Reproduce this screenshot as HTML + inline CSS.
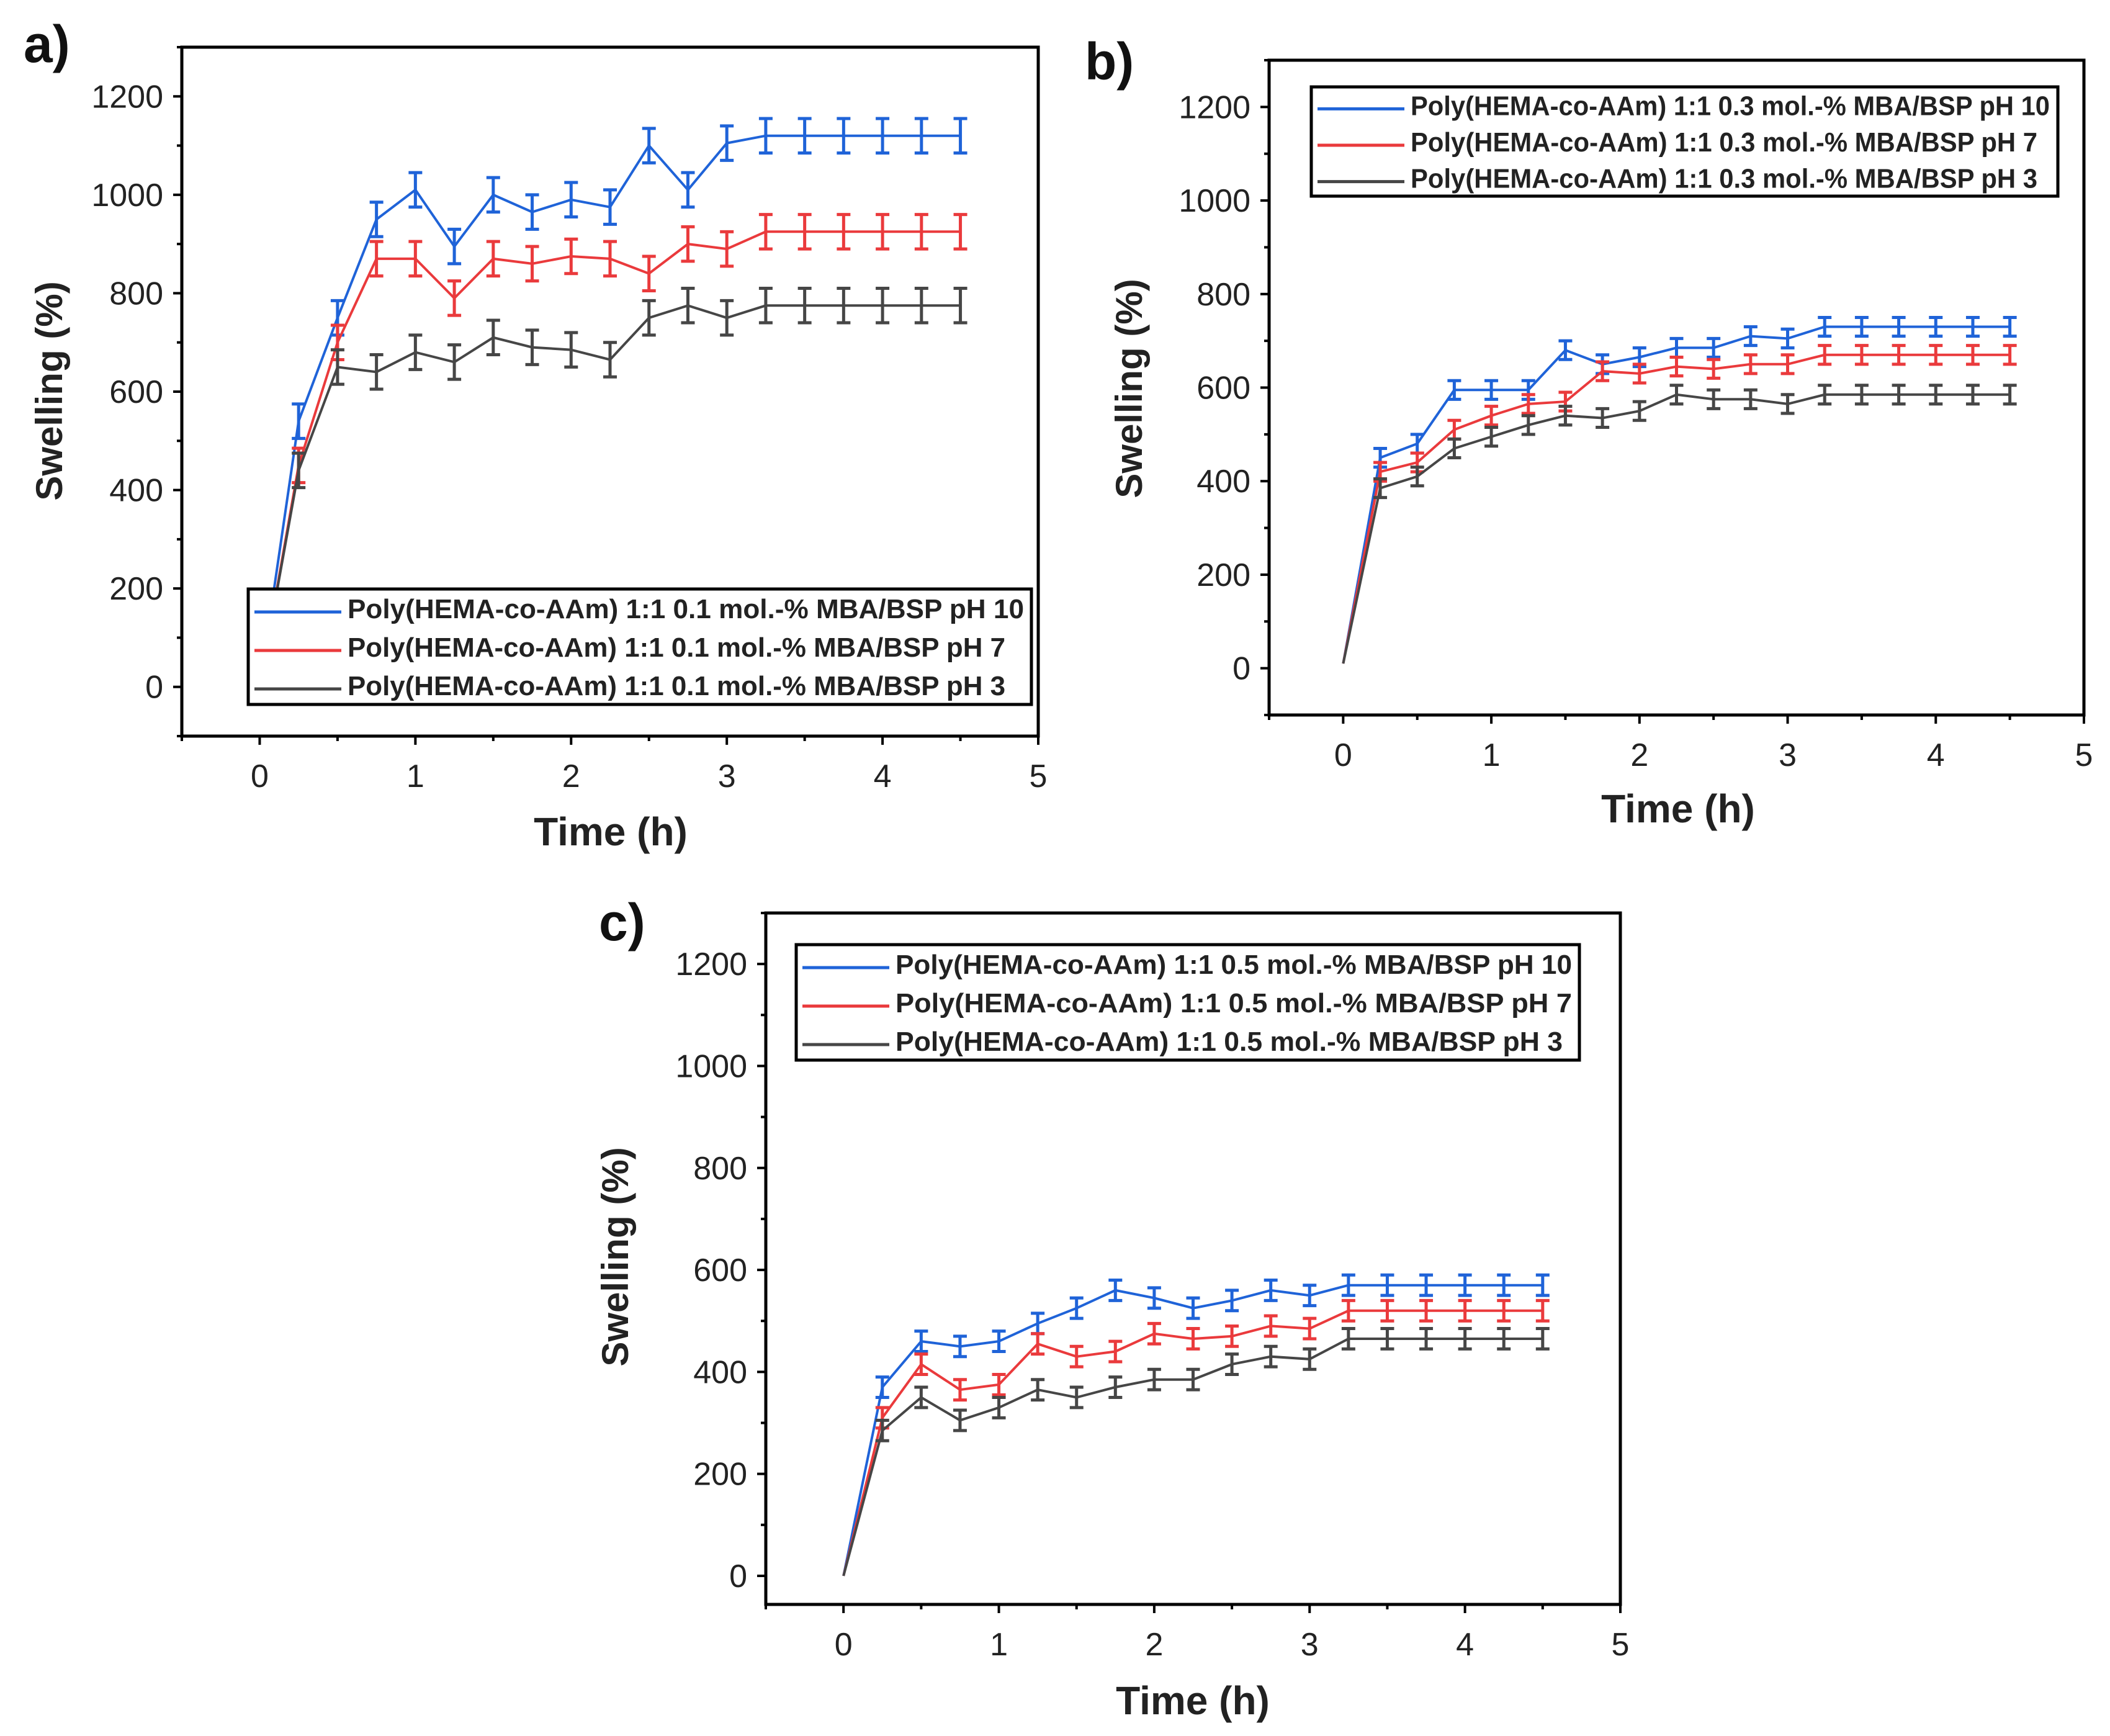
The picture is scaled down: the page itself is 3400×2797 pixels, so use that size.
<!DOCTYPE html>
<html><head><meta charset="utf-8"><style>
html,body{margin:0;padding:0;background:#fff;}
svg{display:block;font-family:"Liberation Sans",Arial,sans-serif;}
</style></head><body>
<svg id="fig" width="3400" height="2797" viewBox="0 0 3400 2797" xmlns="http://www.w3.org/2000/svg"></svg>
<script>
const times = [0,0.25,0.5,0.75,1,1.25,1.5,1.75,2,2.25,2.5,2.75,3,3.25,3.5,3.75,4,4.25,4.5];
const aBlue = [0,540,750,950,1010,895,1000,965,990,975,1100,1010,1105,1120,1120,1120,1120,1120,1120];
const aRed  = [0,450,700,870,870,790,870,860,875,870,840,900,890,925,925,925,925,925,925];
const aGray = [0,440,650,640,680,660,710,690,685,665,750,775,750,775,775,775,775,775,775];
const bBlue = [10,450,480,595,595,595,680,650,665,685,685,710,705,730,730,730,730,730,730];
const bRed  = [10,420,440,510,540,565,570,635,630,645,640,650,650,670,670,670,670,670,670];
const bGray = [10,385,410,470,495,520,540,535,550,585,575,575,565,585,585,585,585,585,585];
const cBlue = [0,370,460,450,460,495,525,560,545,525,540,560,550,570,570,570,570,570,570];
const cRed  = [0,310,415,365,375,455,430,440,475,465,470,490,485,520,520,520,520,520,520];
const cGray = [0,285,350,305,330,365,350,370,385,385,415,430,425,465,465,465,465,465,465];
const aErr = 35, bErr = 20, cErr = 20;
const yTicks = [0,200,400,600,800,1000,1200];
const xTicks = [0,1,2,3,4,5];
const COLORS = {blue:'#1f63d8', red:'#ea3a3c', gray:'#464646'};

const NS='http://www.w3.org/2000/svg';
const svg=document.getElementById('fig');
function el(tag,attrs,parent,text){const e=document.createElementNS(NS,tag);for(const k in attrs)e.setAttribute(k,attrs[k]);if(text!==undefined)e.textContent=text;(parent||svg).appendChild(e);return e;}

function panel(cfg){
  const g=el('g',{});
  
  
  const X=v=>cfg.L+(v-(-0.5))/(5.5)*(cfg.R-cfg.L);
  const Y=v=>cfg.B-(v-cfg.ymin)/(1300-cfg.ymin)*(cfg.B-cfg.T);
  // series
  cfg.series.forEach(s=>{
    const sg=el('g',{},g);
    
    
    const pts=times.map((t,i)=>X(t).toFixed(1)+','+Y(s.vals[i]).toFixed(1)).join(' ');
    const pl=el('polyline',{points:pts,fill:'none',stroke:s.color,'stroke-width':4},sg);
    
    
    times.forEach((t,i)=>{
      if(i===0)return;
      const x=X(t),y1=Y(s.vals[i]-cfg.err),y2=Y(s.vals[i]+cfg.err);
      const eb=el('path',{d:`M${x},${y1}V${y2}M${x-11},${y1}H${x+11}M${x-11},${y2}H${x+11}`,stroke:s.color,'stroke-width':5,fill:'none'},sg);
      
      
    });
  });
  // frame
  const fr=el('rect',{x:cfg.L,y:cfg.T,width:cfg.R-cfg.L,height:cfg.B-cfg.T,fill:'none',stroke:'#000','stroke-width':5},g);
  
  
  // y ticks
  for(let v=-100;v<=1300;v+=100){ if(v<cfg.ymin)continue; const y=Y(v); const major=(v%200===0);
    el('line',{x1:cfg.L,x2:cfg.L-(major?14:8),y1:y,y2:y,stroke:'#000','stroke-width':4},g);}
  yTicks.forEach(v=>{const t=el('text',{x:cfg.L-30,y:Y(v)+18,'text-anchor':'end','font-size':52,fill:'#222'},g,String(v));
    });
  // x ticks
  for(let v=-0.5;v<=5.001;v+=0.5){const x=X(v);const major=Math.abs(v-Math.round(v))<0.01;
    el('line',{x1:x,x2:x,y1:cfg.B,y2:cfg.B+(major?14:8),stroke:'#000','stroke-width':4},g);}
  xTicks.forEach(v=>{const t=el('text',{x:X(v),y:cfg.B+82,'text-anchor':'middle','font-size':52,fill:'#222'},g,String(v));
    });
  // titles
  const xt=el('text',{x:cfg.xtX,y:cfg.xtY,'text-anchor':'middle','font-size':64,'font-weight':'bold',fill:'#222'},g,'Time (h)');
  
  const yt=el('text',{x:0,y:0,'text-anchor':'middle','font-size':60,'font-weight':'bold',fill:'#222',transform:`translate(${cfg.ytX},${cfg.ytY}) rotate(-90)`},g,'Swelling (%)');
  
  const lab=el('text',{x:cfg.labX,y:cfg.labY,'font-size':84,'font-weight':'bold',fill:'#111'},g,cfg.id+')');
  
  // legend
  const lg=el('g',{},g);
  
  
  const [lx1,ly1,lx2,ly2]=cfg.leg;
  el('rect',{x:lx1,y:ly1,width:lx2-lx1,height:ly2-ly1,fill:'#fff',stroke:'#000','stroke-width':5},lg);
  const rh=(ly2-ly1)/3;
  cfg.series.forEach((s,i)=>{
    const cy=ly1+rh*(i+0.5);
    const le=el('g',{},lg);
    
    
    el('line',{x1:lx1+10,x2:lx1+150,y1:cy+6,y2:cy+6,stroke:s.color,'stroke-width':5},le);
    el('text',{x:lx1+160,y:cy+16,'font-size':44,'font-weight':'bold',fill:'#222',textLength:s.tw,lengthAdjust:'spacingAndGlyphs'},le,s.label);
  });
}

panel({id:'a',L:293,R:1673,T:76,B:1186,ymin:-100,err:aErr,
  xtX:984,xtY:1362,ytX:100,ytY:630,labX:38,labY:100,leg:[400,949,1662,1135],
  series:[
    {name:'ph10',color:COLORS.blue,vals:aBlue,label:'Poly(HEMA-co-AAm) 1:1 0.1 mol.-% MBA/BSP pH 10',tw:1090},
    {name:'ph7',color:COLORS.red,vals:aRed,label:'Poly(HEMA-co-AAm) 1:1 0.1 mol.-% MBA/BSP pH 7',tw:1060},
    {name:'ph3',color:COLORS.gray,vals:aGray,label:'Poly(HEMA-co-AAm) 1:1 0.1 mol.-% MBA/BSP pH 3',tw:1060}]});
panel({id:'b',L:2045,R:3358,T:97,B:1152,ymin:-100,err:bErr,
  xtX:2704,xtY:1325,ytX:1840,ytY:626,labX:1748,labY:128,leg:[2113,140,3316,316],
  series:[
    {name:'ph10',color:COLORS.blue,vals:bBlue,label:'Poly(HEMA-co-AAm) 1:1 0.3 mol.-% MBA/BSP pH 10',tw:1030},
    {name:'ph7',color:COLORS.red,vals:bRed,label:'Poly(HEMA-co-AAm) 1:1 0.3 mol.-% MBA/BSP pH 7',tw:1010},
    {name:'ph3',color:COLORS.gray,vals:bGray,label:'Poly(HEMA-co-AAm) 1:1 0.3 mol.-% MBA/BSP pH 3',tw:1010}]});
panel({id:'c',L:1234,R:2611,T:1471,B:2585,ymin:-56,err:cErr,
  xtX:1922,xtY:2762,ytX:1012,ytY:2025,labX:965,labY:1515,leg:[1283,1522,2545,1708],
  series:[
    {name:'ph10',color:COLORS.blue,vals:cBlue,label:'Poly(HEMA-co-AAm) 1:1 0.5 mol.-% MBA/BSP pH 10',tw:1090},
    {name:'ph7',color:COLORS.red,vals:cRed,label:'Poly(HEMA-co-AAm) 1:1 0.5 mol.-% MBA/BSP   pH 7',tw:1090},
    {name:'ph3',color:COLORS.gray,vals:cGray,label:'Poly(HEMA-co-AAm) 1:1 0.5 mol.-% MBA/BSP  pH 3',tw:1075}]});
</script>
</body></html>
